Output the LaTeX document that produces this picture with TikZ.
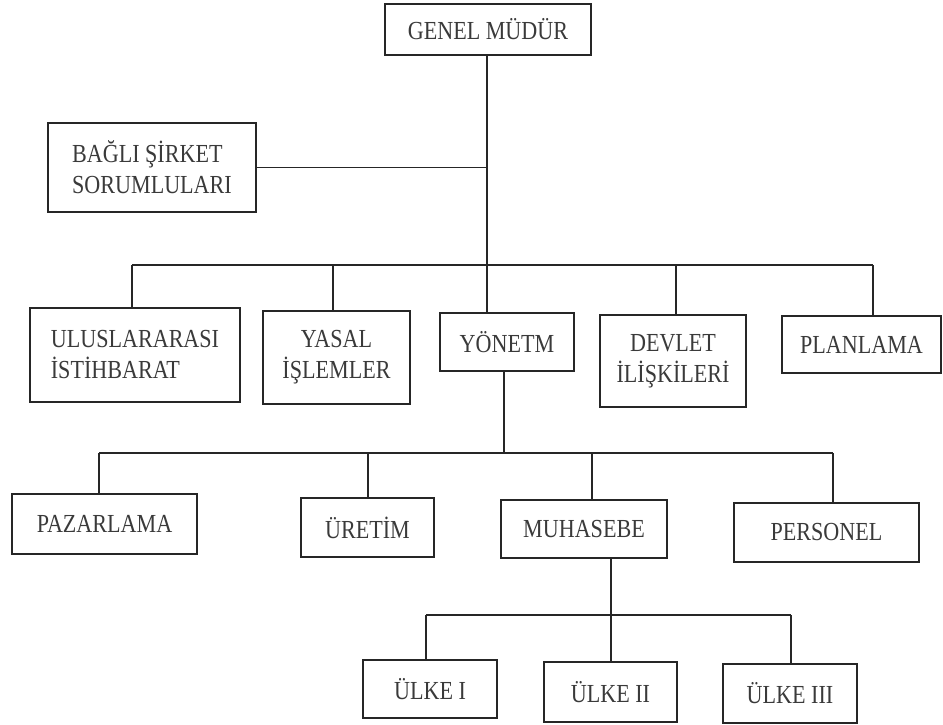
\documentclass[tikz,border=0pt]{standalone}
\usepackage{fontspec}
\setmainfont{Liberation Serif}[FakeStretch=0.85]
\definecolor{inkline}{HTML}{262626}
\definecolor{inktext}{HTML}{3A3A3A}
\begin{document}
\begin{tikzpicture}[x=1pt,y=-1pt,
  box/.style={draw=inkline, line width=1.7pt, rectangle, inner sep=0pt, align=center,
    text=inktext, font=\fontsize{26}{31}\selectfont},
  leftbox/.style={box, align=left},
  conn/.style={draw=inkline, line width=1.1pt}]
\useasboundingbox (0,0) rectangle (943,725);
\fill[white] (0,0) rectangle (943,725);
% level 0
\node[box, minimum width=206pt, minimum height=51pt] (gm) at (488,29.5) {GENEL MÜDÜR};
\node[leftbox, minimum width=208pt, minimum height=89pt] (bs) at (152,167.5) {BAĞLI ŞİRKET\\SORUMLULARI};
% level 1
\node[leftbox, minimum width=210pt, minimum height=94pt] (ui) at (135,355) {ULUSLARARASI\\İSTİHBARAT};
\node[box, minimum width=147pt, minimum height=93pt] (yi) at (336.5,357.5) {YASAL\\İŞLEMLER};
\node[box, minimum width=134pt, minimum height=58pt] (yo) at (507,342) {YÖNETM};
\node[box, minimum width=146pt, minimum height=92pt] (di) at (673,361) {DEVLET\\İLİŞKİLERİ};
\node[box, minimum width=159pt, minimum height=57pt] (pl) at (861.5,344.5) {PLANLAMA};
% level 2
\node[box, minimum width=185pt, minimum height=60pt] (pz) at (104.5,524) {PAZARLAMA};
\node[box, minimum width=133pt, minimum height=59pt] (ur) at (367.5,527.5) {ÜRETİM};
\node[box, minimum width=166pt, minimum height=58pt] (mu) at (584,529) {MUHASEBE};
\node[box, minimum width=185pt, minimum height=59pt] (pe) at (826.5,532.5) {PERSONEL};
% level 3
\node[box, minimum width=134pt, minimum height=58pt] (u1) at (430,689) {ÜLKE I};
\node[box, minimum width=133pt, minimum height=60pt] (u2) at (610.5,692) {ÜLKE II};
\node[box, minimum width=134pt, minimum height=59pt] (u3) at (790,693.5) {ÜLKE III};
% bus coordinates
\coordinate (t1) at (487,265);
\coordinate (a1) at (132,265);
\coordinate (a2) at (333,265);
\coordinate (a4) at (676,265);
\coordinate (a5) at (873,265);
\coordinate (t2) at (504,453);
\coordinate (c1) at (99,453);
\coordinate (c2) at (368,453);
\coordinate (c3) at (592,453);
\coordinate (c4) at (833,453);
\coordinate (t3) at (611,615);
\coordinate (e1) at (426,615);
\coordinate (e3) at (791,615);
% connectors
\draw[conn] (gm.south -| t1) -- (t1 |- yo.north);
\draw[conn] (bs.east) -- (bs.east -| t1);
\draw[conn] (a1) -- (a5);
\draw[conn] (a1) -- (a1 |- ui.north);
\draw[conn] (a2) -- (a2 |- yi.north);
\draw[conn] (a4) -- (a4 |- di.north);
\draw[conn] (a5) -- (a5 |- pl.north);
\draw[conn] (yo.south -| t2) -- (t2);
\draw[conn] (c1) -- (c4);
\draw[conn] (c1) -- (c1 |- pz.north);
\draw[conn] (c2) -- (c2 |- ur.north);
\draw[conn] (c3) -- (c3 |- mu.north);
\draw[conn] (c4) -- (c4 |- pe.north);
\draw[conn] (mu.south -| t3) -- (t3 |- u2.north);
\draw[conn] (e1) -- (e3);
\draw[conn] (e1) -- (e1 |- u1.north);
\draw[conn] (e3) -- (e3 |- u3.north);
\end{tikzpicture}
\end{document}
